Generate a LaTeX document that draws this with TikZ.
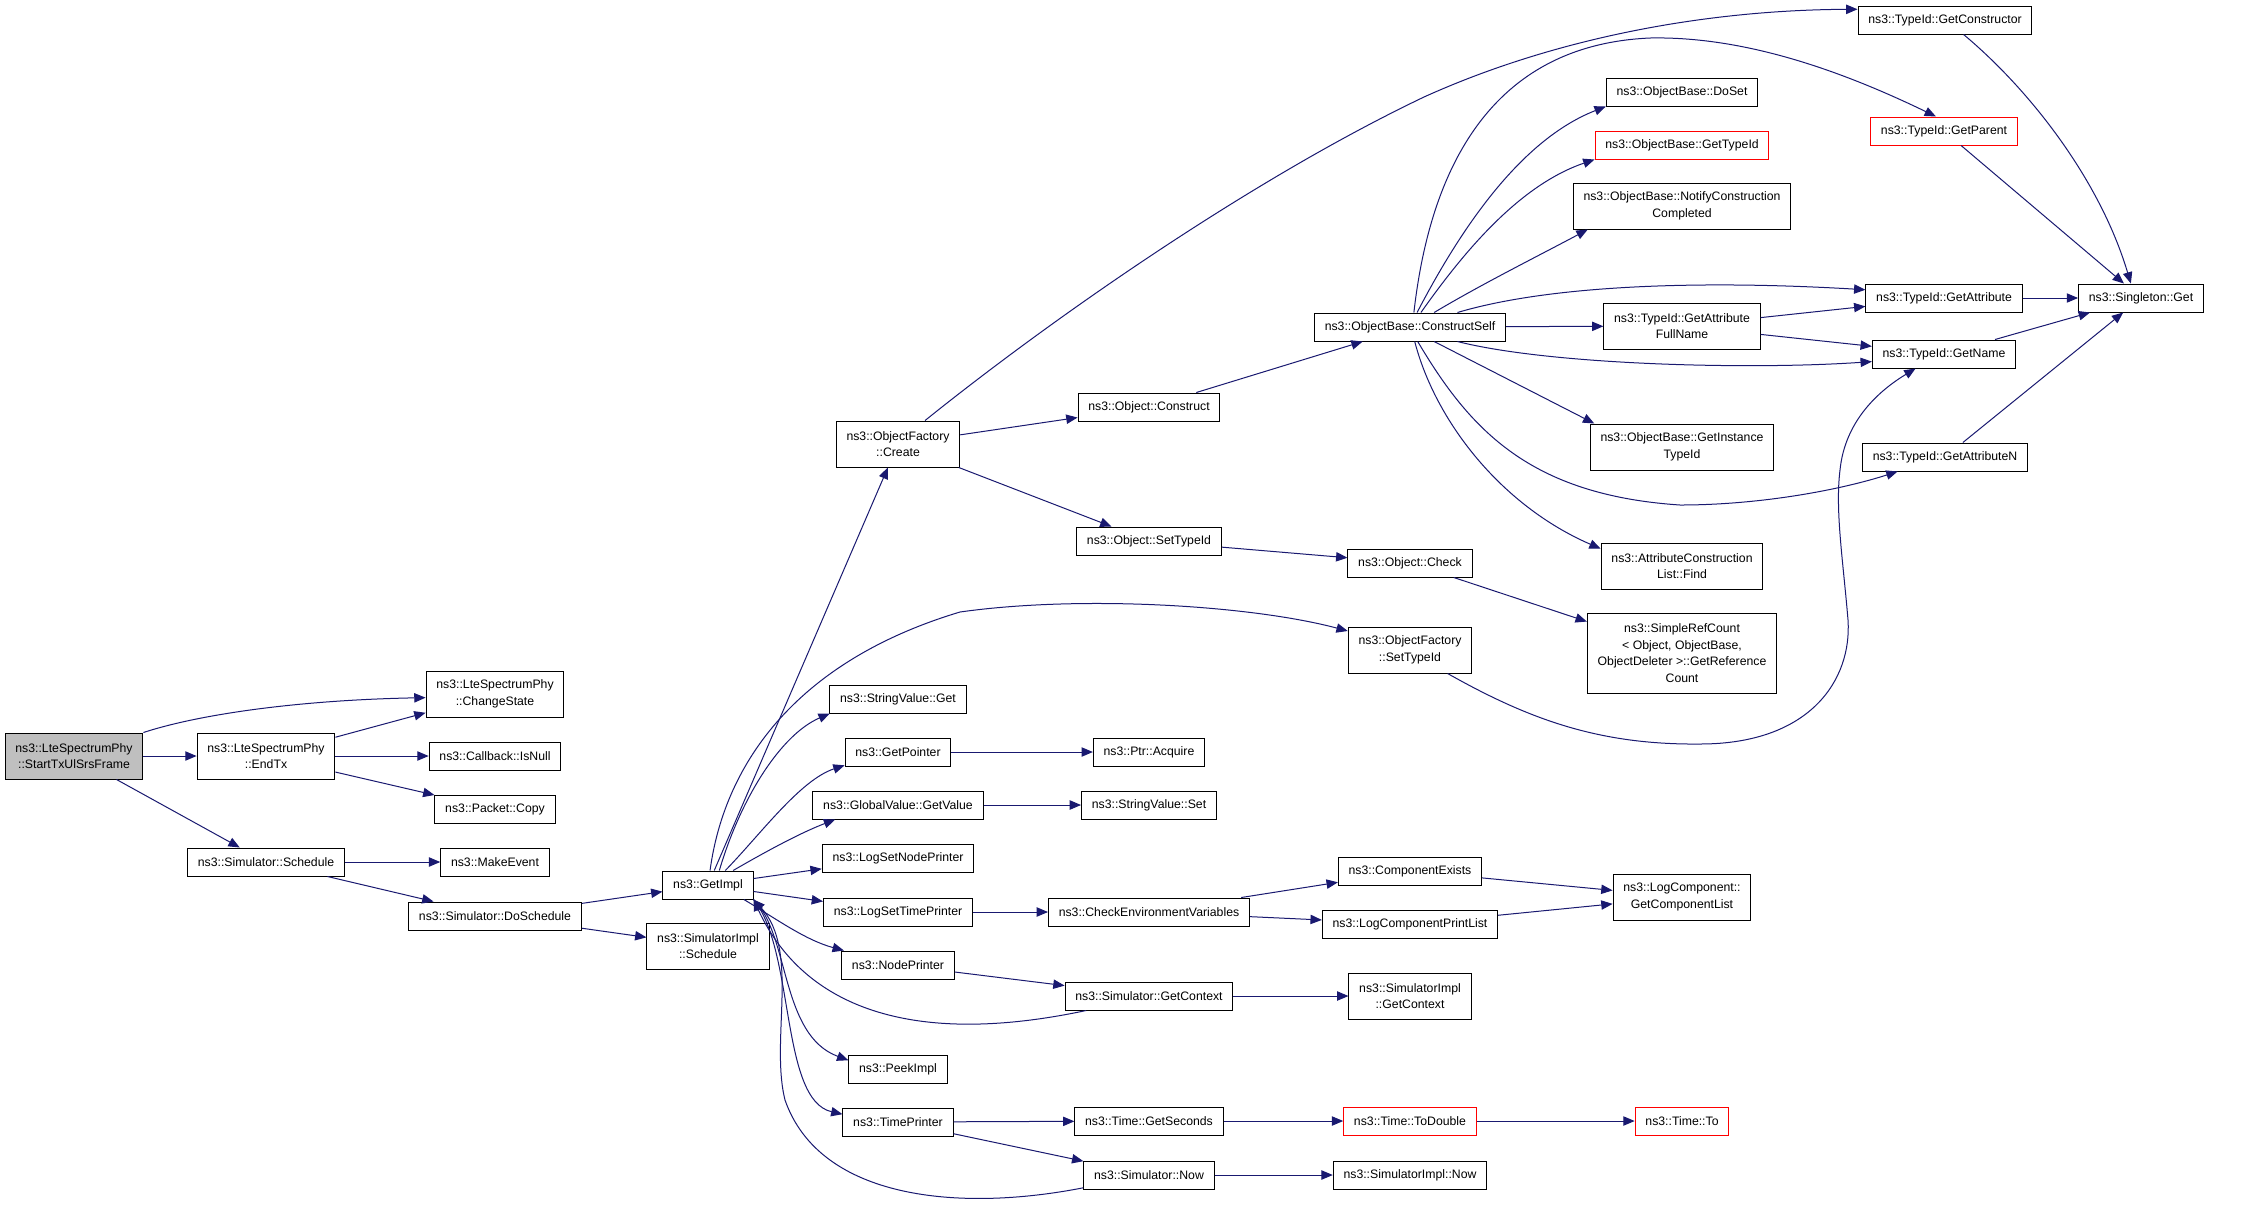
\documentclass[tikz,border=0pt]{standalone}
\usepackage{fontspec}
\setmainfont{Liberation Sans}
\usetikzlibrary{arrows.meta}
\definecolor{edgeblue}{HTML}{191970}
\definecolor{rootgray}{HTML}{BFBFBF}

\begin{document}
\begin{tikzpicture}[x=0.75pt,y=-0.75pt]
\tikzstyle{fn} = [draw=black,fill=white,line width=0.75pt,shape=rectangle,inner xsep=7.7pt,inner ysep=2pt,minimum height=21pt,align=center,font=\fontsize{9.2pt}{12.5pt}\selectfont]
\tikzstyle{fn2} = [fn,minimum height=34.5pt]
\tikzstyle{fnred} = [fn,draw=red]
\tikzstyle{fnroot} = [fn2,fill=rootgray]
\tikzstyle{call} = [draw=edgeblue,line width=0.75pt,-{Triangle[length=8.5pt,width=7pt]}]
\path[use as bounding box,fill=white] (0,0) rectangle (2248,1208);
% first columns
\node[fnroot] (root) at (74,756) {ns3::LteSpectrumPhy\\::StartTxUlSrsFrame};
\node[fn2] (endtx) at (266,756) {ns3::LteSpectrumPhy\\::EndTx};
\node[fn] (sched) at (266,862) {ns3::Simulator::Schedule};
\node[fn2] (cstate) at (495,694) {ns3::LteSpectrumPhy\\::ChangeState};
\node[fn] (isnull) at (495,756) {ns3::Callback::IsNull};
\node[fn] (pcopy) at (495,809) {ns3::Packet::Copy};
\node[fn] (mkevent) at (495,862) {ns3::MakeEvent};
\node[fn] (dosched) at (495,916) {ns3::Simulator::DoSchedule};
\node[fn] (gimpl) at (708,885) {ns3::GetImpl};
\node[fn2] (sisched) at (708,946) {ns3::SimulatorImpl\\::Schedule};
% callees of GetImpl
\node[fn2] (ofcreate) at (898,444) {ns3::ObjectFactory\\::Create};
\node[fn] (svget) at (898,699) {ns3::StringValue::Get};
\node[fn] (gptr) at (898,752) {ns3::GetPointer};
\node[fn] (gval) at (898,805) {ns3::GlobalValue::GetValue};
\node[fn] (lsnp) at (898,858) {ns3::LogSetNodePrinter};
\node[fn] (lstp) at (898,912) {ns3::LogSetTimePrinter};
\node[fn] (nodepr) at (898,965) {ns3::NodePrinter};
\node[fn] (peek) at (898,1069) {ns3::PeekImpl};
\node[fn] (tprint) at (898,1122) {ns3::TimePrinter};
\node[fn] (oconstr) at (1149,407) {ns3::Object::Construct};
\node[fn] (osettid) at (1149,541) {ns3::Object::SetTypeId};
\node[fn] (acquire) at (1149,752) {ns3::Ptr::Acquire};
\node[fn] (svset) at (1149,805) {ns3::StringValue::Set};
\node[fn] (checkenv) at (1149,912) {ns3::CheckEnvironmentVariables};
\node[fn] (simctx) at (1149,996) {ns3::Simulator::GetContext};
\node[fn] (getsec) at (1149,1121) {ns3::Time::GetSeconds};
\node[fn] (simnow) at (1149,1175) {ns3::Simulator::Now};
% middle column
\node[fn] (cself) at (1410,327) {ns3::ObjectBase::ConstructSelf};
\node[fn] (ocheck) at (1410,563) {ns3::Object::Check};
\node[fn2] (ofset) at (1410,650) {ns3::ObjectFactory\\::SetTypeId};
\node[fn] (compex) at (1410,871) {ns3::ComponentExists};
\node[fn] (lcpl) at (1410,924) {ns3::LogComponentPrintList};
\node[fn2] (sictx) at (1410,996) {ns3::SimulatorImpl\\::GetContext};
\node[fnred] (todbl) at (1410,1121) {ns3::Time::ToDouble};
\node[fn] (sinow) at (1410,1175) {ns3::SimulatorImpl::Now};
\node[fn] (doset) at (1682,92) {ns3::ObjectBase::DoSet};
\node[fnred] (gtid) at (1682,145) {ns3::ObjectBase::GetTypeId};
\node[fn2] (notify) at (1682,206) {ns3::ObjectBase::NotifyConstruction\\Completed};
\node[fn2] (gafn) at (1682,326) {ns3::TypeId::GetAttribute\\FullName};
\node[fn2] (git) at (1682,447) {ns3::ObjectBase::GetInstance\\TypeId};
\node[fn2] (find) at (1682,566) {ns3::AttributeConstruction\\List::Find};
\node[fn,minimum height=60pt] (srefc) at (1682,653) {ns3::SimpleRefCount\\< Object, ObjectBase,\\ObjectDeleter >::GetReference\\Count};
\node[fn2] (gcl) at (1682,897) {ns3::LogComponent::\\GetComponentList};
\node[fnred] (timeto) at (1682,1121) {ns3::Time::To};
% TypeId column
\node[fn] (gcons) at (1945,20) {ns3::TypeId::GetConstructor};
\node[fnred] (gparent) at (1944,131) {ns3::TypeId::GetParent};
\node[fn] (gattr) at (1944,298) {ns3::TypeId::GetAttribute};
\node[fn] (gname) at (1944,354) {ns3::TypeId::GetName};
\node[fn] (gattrn) at (1945,457) {ns3::TypeId::GetAttributeN};
\node[fn] (sget) at (2141,298) {ns3::Singleton::Get};
% calls
\draw[call] (root.north east) .. controls (200,714) and (300,700) .. (cstate.183);
\draw[call] (root) -- (endtx);
\draw[call] (root) -- (sched);
\draw[call] (endtx) -- (cstate);
\draw[call] (endtx) -- (isnull);
\draw[call] (endtx) -- (pcopy);
\draw[call] (sched) -- (mkevent);
\draw[call] (sched) -- (dosched);
\draw[call] (dosched) -- (gimpl);
\draw[call] (dosched) -- (sisched);
\draw[call] (gimpl) -- (ofcreate);
\draw[call] (gimpl.82) .. controls (725,760) and (800,660) .. (960,612) .. controls (1080,595) and (1250,605) .. (ofset.163);
\draw[call] (gimpl.52) .. controls (740,800) and (780,735) .. (svget.192);
\draw[call] (gimpl.40) .. controls (760,835) and (800,780) .. (gptr.194);
\draw[call] (gimpl.30) .. controls (765,852) and (800,833) .. (gval.193);
\draw[call] (gimpl) -- (lsnp);
\draw[call] (gimpl) -- (lstp);
\draw[call] (gimpl.-22) .. controls (775,918) and (805,940) .. (nodepr.165);
\draw[call] (gimpl.south east) .. controls (790,935) and (780,1035) .. (peek.170);
\draw[call] (gimpl.south east) .. controls (795,950) and (780,1100) .. (tprint.172);
\draw[call] (simctx.193) .. controls (900,1050) and (800,1000) .. (gimpl.south east);
\draw[call] (simnow.191) .. controls (960,1212) and (820,1200) .. (785,1100) .. controls (770,1040) and (800,950) .. (gimpl.south east);
\draw[call] (ofcreate.41) .. controls (1050,320) and (1250,180) .. (1424,97) .. controls (1550,40) and (1700,10) .. (gcons.173);
\draw[call] (ofcreate) -- (oconstr);
\draw[call] (ofcreate) -- (osettid);
\draw[call] (oconstr) -- (cself);
\draw[call] (osettid) -- (ocheck);
\draw[call] (ocheck) -- (srefc);
\draw[call] (ofset.-32) .. controls (1530,720) and (1600,745) .. (1700,744) .. controls (1810,744) and (1852,680) .. (1848,620) .. controls (1843,560) and (1835,510) .. (1840,470) .. controls (1845,420) and (1880,390) .. (gname.207);
\draw[call] (gptr) -- (acquire);
\draw[call] (gval) -- (svset);
\draw[call] (lstp) -- (checkenv);
\draw[call] (checkenv) -- (compex);
\draw[call] (checkenv) -- (lcpl);
\draw[call] (compex) -- (gcl);
\draw[call] (lcpl) -- (gcl);
\draw[call] (nodepr) -- (simctx);
\draw[call] (simctx) -- (sictx);
\draw[call] (tprint) -- (getsec);
\draw[call] (tprint) -- (simnow);
\draw[call] (getsec) -- (todbl);
\draw[call] (todbl) -- (timeto);
\draw[call] (simnow) -- (sinow);
% ConstructSelf fan-out
\draw[call] (cself.75) .. controls (1430,170) and (1490,45) .. (1650,38) .. controls (1750,36) and (1850,75) .. (gparent.119);
\draw[call] (cself.64) .. controls (1460,230) and (1520,140) .. (doset.south west);
\draw[call] (cself.53) .. controls (1465,250) and (1520,185) .. (gtid.south west);
\draw[call] (cself.31) .. controls (1480,285) and (1540,255) .. (notify.194);
\draw[call] (cself.17) .. controls (1550,285) and (1700,280) .. (gattr.174);
\draw[call] (cself) -- (gafn);
\draw[call] (cself.-17) .. controls (1550,365) and (1750,370) .. (gname.186);
\draw[call] (cself.-31) -- (git.165);
\draw[call] (cself.-72) .. controls (1435,420) and (1500,505) .. (find.168);
\draw[call] (cself.-62) .. controls (1470,430) and (1530,495) .. (1680,505) .. controls (1760,505) and (1840,490) .. (gattrn.197);
\draw[call] (gafn) -- (gattr);
\draw[call] (gafn) -- (gname);
\draw[call] (gcons.-38) .. controls (2030,90) and (2100,180) .. (sget.125);
\draw[call] (gparent) -- (sget);
\draw[call] (gattr) -- (sget);
\draw[call] (gname) -- (sget);
\draw[call] (gattrn) -- (sget);
\end{tikzpicture}
\end{document}
